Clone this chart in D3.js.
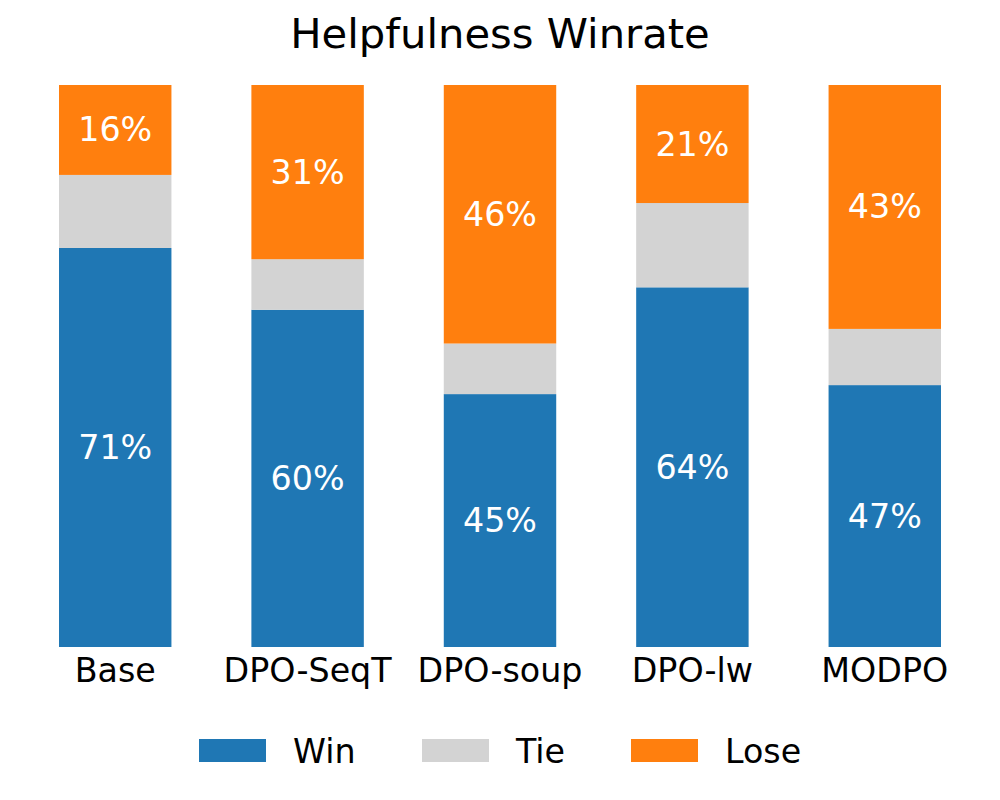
<!DOCTYPE html>
<html>
<head>
<meta charset="utf-8">
<script src="https://cdn.jsdelivr.net/npm/d3@7"></script>
<style>
  body { margin: 0; background: #fff; }
  text { font-family: "DejaVu Sans", sans-serif; }
</style>
</head>
<body>
<svg id="chart" width="1000" height="800"></svg>
<script>
// data
const models = ["Base", "DPO-SeqT", "DPO-soup", "DPO-lw", "MODPO"];
const win  = [71, 60, 45, 64, 46.6];
const tie  = [13, 9, 9, 15, 10];
const lose = [16, 31, 46, 21, 43.4];
const seriesNames = ["Win", "Tie", "Lose"];
const colors = ["#1f77b4", "#d3d3d3", "#ff7f0e"];

const svg = d3.select("#chart");

const rows = models.map((m, i) => ({ model: m, Win: win[i], Tie: tie[i], Lose: lose[i] }));
const stacked = d3.stack().keys(seriesNames)(rows);

const x = d3.scaleBand()
            .domain(models)
            .range([59, 941])
            .paddingInner(0.4156)
            .paddingOuter(0);
const y = d3.scaleLinear()
            .domain([0, 100])
            .range([647, 85]);
const color = d3.scaleOrdinal().domain(seriesNames).range(colors);

// title
svg.append("text")
    .text("Helpfulness Winrate")
    .attr("x", 500)
    .attr("y", 48)
    .attr("text-anchor", "middle")
    .style("font-size", "41.7px")
    .style("fill", "#000");

// bars
const groups = svg.selectAll("g.series").data(stacked)
                    .join("g")
                    .attr("class", "series")
                    .attr("fill", d => color(d.key));

groups.selectAll("rect").data(d => d)
        .join("rect")
        .attr("x", d => x(d.data.model))
        .attr("width", x.bandwidth())
        .attr("y", d => y(d[1]))
        .attr("height", d => y(d[0]) - y(d[1]));

// percent labels on win and lose
stacked.filter(s => s.key !== "Tie").forEach(s => {
    svg.selectAll(null).data(s)
        .join("text")
        .text(d => Math.round(d[1] - d[0]) + "%")
        .attr("x", d => x(d.data.model) + x.bandwidth() / 2)
        .attr("y", d => (y(d[0]) + y(d[1])) / 2)
        .attr("text-anchor", "middle")
        .attr("dominant-baseline", "central")
        .style("font-size", "33.3px")
        .style("fill", "#fff");
});

// x axis labels (no line, no ticks)
const xAxis = svg.append("g")
                .attr("transform", "translate(0,647)")
                .call(d3.axisBottom(x).tickSize(0).tickPadding(11));
xAxis.select(".domain").remove();
xAxis.selectAll("text")
    .attr("dy", "0.71em")
    .style("font-size", "33.3px")
    .style("font-family", "DejaVu Sans, sans-serif")
    .style("fill", "#000");

// legend
const legendX = [199, 422, 631];
const legend = svg.append("g");
seriesNames.forEach((name, i) => {
    legend.append("rect")
        .attr("x", legendX[i])
        .attr("y", 739)
        .attr("width", 67)
        .attr("height", 23)
        .style("fill", colors[i]);
    legend.append("text")
        .text(name)
        .attr("x", legendX[i] + 94)
        .attr("y", 751)
        .attr("dominant-baseline", "central")
        .style("font-size", "33.3px")
        .style("fill", "#000");
});
</script>
</body>
</html>
